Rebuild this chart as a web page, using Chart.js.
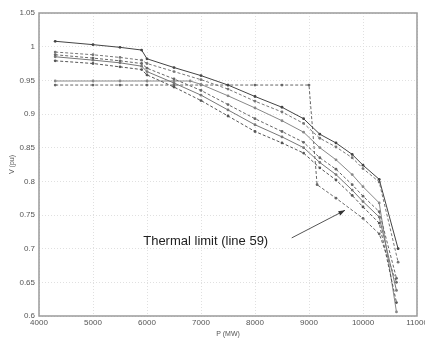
<!DOCTYPE html>
<html>
<head>
<meta charset="utf-8">
<script src="https://cdn.jsdelivr.net/npm/chart.js@4.4.1/dist/chart.umd.min.js"></script>
<style>
  body { margin: 0; background: #fff; }
  canvas { display: block; }
</style>
</head>
<body>
<canvas id="pvChart" width="425" height="341"></canvas>
<script>
// P (MW) points and V (pu) values for each curve
var pMain = [4300, 5000, 5500, 5900, 6000, 6500, 7000, 7500, 8000, 8500, 8900, 9200, 9500, 9800, 10000, 10300, 10650];
var v1 = [1.008, 1.003, 0.999, 0.995, 0.982, 0.969, 0.957, 0.943, 0.926, 0.910, 0.893, 0.870, 0.857, 0.840, 0.824, 0.803, 0.700];
var v2 = [0.992, 0.988, 0.984, 0.980, 0.975, 0.963, 0.951, 0.937, 0.919, 0.903, 0.886, 0.864, 0.851, 0.835, 0.819, 0.799, 0.680];

var pLow = [4300, 5000, 5500, 5900, 6000, 6500, 7000, 7500, 8000, 8500, 8900, 9200, 9500, 9800, 10000, 10300, 10620];
var v3 = [0.988, 0.983, 0.979, 0.975, 0.968, 0.952, 0.935, 0.914, 0.893, 0.874, 0.858, 0.835, 0.818, 0.795, 0.778, 0.755, 0.656];
var v4 = [0.985, 0.980, 0.976, 0.971, 0.963, 0.946, 0.928, 0.906, 0.884, 0.866, 0.850, 0.828, 0.810, 0.787, 0.770, 0.747, 0.638];
var v5 = [0.979, 0.975, 0.970, 0.966, 0.958, 0.940, 0.920, 0.897, 0.874, 0.857, 0.842, 0.820, 0.802, 0.779, 0.762, 0.738, 0.620];

var pFlat = [4300, 5000, 5500, 6000, 6500, 6800, 7000, 7500, 8000, 8500, 8900, 9200, 9500, 9800, 10000, 10300, 10620];
var v6 = [0.949, 0.949, 0.949, 0.949, 0.949, 0.949, 0.944, 0.927, 0.909, 0.890, 0.873, 0.850, 0.832, 0.810, 0.792, 0.768, 0.606];

// thermal limit curve (line 59)
var pTherm = [4300, 5000, 5500, 6000, 6500, 7000, 7500, 8000, 8500, 9000, 9150, 9500, 10000, 10300, 10620];
var v7 = [0.943, 0.943, 0.943, 0.943, 0.943, 0.943, 0.943, 0.943, 0.943, 0.943, 0.795, 0.775, 0.745, 0.722, 0.650];

var xTicks = [4000, 5000, 6000, 7000, 8000, 9000, 10000, 11000];
var yTicks = [0.6, 0.65, 0.7, 0.75, 0.8, 0.85, 0.9, 0.95, 1, 1.05];

var noteText = 'Thermal limit (line 59)';

function pts(ps, vs) {
  return ps.map(function (p, i) { return { x: p, y: vs[i] }; });
}

function series(ps, vs, color, dash) {
  return {
    data: pts(ps, vs),
    showLine: true,
    borderColor: color,
    backgroundColor: color,
    borderWidth: 1,
    borderDash: dash,
    pointRadius: 1.4,
    pointBorderWidth: 0,
    pointBackgroundColor: color,
    tension: 0
  };
}

var boxAndNote = {
  id: 'boxAndNote',
  afterDatasetsDraw: function (chart) {
    var ctx = chart.ctx, a = chart.chartArea;
    var xs = chart.scales.x, ys = chart.scales.y;
    ctx.save();
    ctx.strokeStyle = '#9a9a9a';
    ctx.lineWidth = 1.5;
    ctx.strokeRect(a.left, a.top, a.right - a.left, a.bottom - a.top);

    // annotation text + arrow
    ctx.fillStyle = '#222';
    ctx.font = '13px "Liberation Sans", Arial, sans-serif';
    ctx.textBaseline = 'alphabetic';
    ctx.fillText(noteText, xs.getPixelForValue(5930), ys.getPixelForValue(0.705));

    var x0 = xs.getPixelForValue(8680), y0 = ys.getPixelForValue(0.716);
    var x1 = xs.getPixelForValue(9667), y1 = ys.getPixelForValue(0.757);
    ctx.strokeStyle = '#555';
    ctx.lineWidth = 1;
    ctx.beginPath();
    ctx.moveTo(x0, y0);
    ctx.lineTo(x1, y1);
    ctx.stroke();
    var ang = Math.atan2(y1 - y0, x1 - x0);
    ctx.fillStyle = '#333';
    ctx.beginPath();
    ctx.moveTo(x1, y1);
    ctx.lineTo(x1 - 7 * Math.cos(ang - 0.35), y1 - 7 * Math.sin(ang - 0.35));
    ctx.lineTo(x1 - 7 * Math.cos(ang + 0.35), y1 - 7 * Math.sin(ang + 0.35));
    ctx.closePath();
    ctx.fill();
    ctx.restore();
  }
};

var chart = new Chart(document.getElementById('pvChart'), {
  type: 'scatter',
  data: {
    datasets: [
      series(pMain, v1, '#444', []),
      series(pMain, v2, '#777', [3, 2]),
      series(pLow, v3, '#666', [3, 2]),
      series(pLow, v4, '#777', []),
      series(pLow, v5, '#555', [3, 2]),
      series(pFlat, v6, '#888', []),
      series(pTherm, v7, '#666', [3, 2])
    ]
  },
  options: {
    responsive: false,
    animation: false,
    layout: { padding: { top: 13, right: 8, left: 0, bottom: 0 } },
    plugins: { legend: { display: false }, tooltip: { enabled: false } },
    scales: {
      x: {
        type: 'linear',
        min: 4000,
        max: 11000,
        afterBuildTicks: function (s) { s.ticks = xTicks.map(function (v) { return { value: v }; }); },
        afterFit: function (s) { s.height = 25; s.paddingLeft = 0; s.paddingRight = 0; },
        ticks: {
          color: '#555',
          font: { size: 8, family: 'Liberation Sans' },
          padding: 2,
          maxRotation: 0,
          callback: function (v) { return String(v); }
        },
        grid: { color: '#e0e0e0', drawTicks: false },
        border: { display: false, dash: [1, 2] },
        title: { display: true, text: 'P (MW)', color: '#555', font: { size: 7, family: 'Liberation Sans' }, padding: { top: 0, bottom: 3 } }
      },
      y: {
        min: 0.6,
        max: 1.05,
        afterBuildTicks: function (s) { s.ticks = yTicks.map(function (v) { return { value: v }; }); },
        afterFit: function (s) { s.width = 39; s.paddingTop = 0; s.paddingBottom = 0; },
        ticks: {
          color: '#555',
          font: { size: 8, family: 'Liberation Sans' },
          padding: 4,
          callback: function (v) { return String(+v.toFixed(2)); }
        },
        grid: { color: '#e0e0e0', drawTicks: false },
        border: { display: false, dash: [1, 2] },
        title: { display: true, text: 'V (pu)', color: '#555', font: { size: 7, family: 'Liberation Sans' }, padding: { top: 8, bottom: 0 } }
      }
    }
  },
  plugins: [boxAndNote]
});
</script>
</body>
</html>
